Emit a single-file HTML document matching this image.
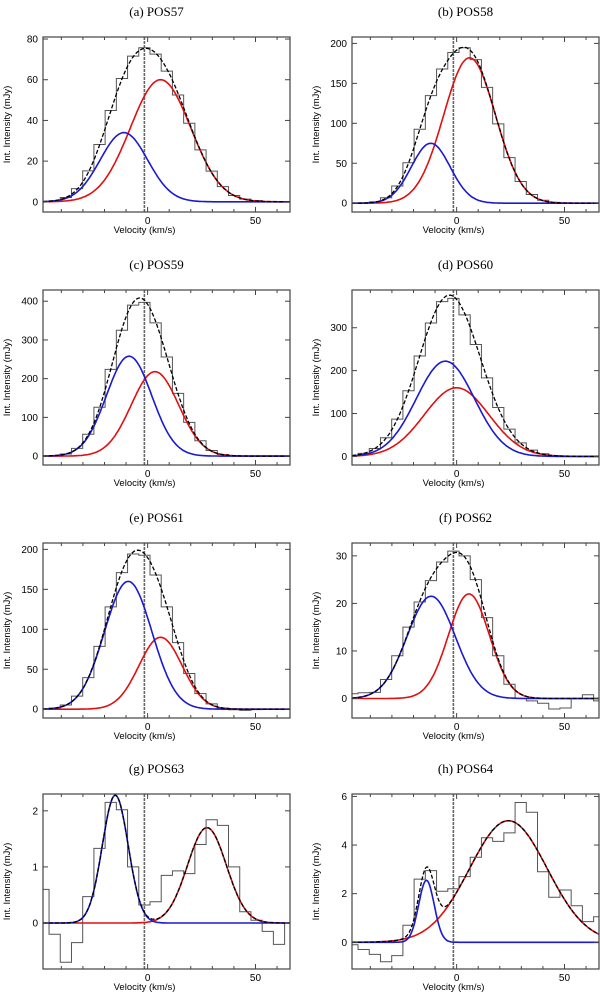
<!DOCTYPE html>
<html><head><meta charset="utf-8">
<style>
body{margin:0;background:#fff;}
svg{display:block;font-family:"Liberation Sans",sans-serif;}
.ttl{font-family:"Liberation Serif",serif;font-size:13px;}
</style></head>
<body>
<svg id="fig" width="600" height="997" viewBox="0 0 600 997" xmlns="http://www.w3.org/2000/svg"></svg>
<script>
const titles=["(a) POS57","(b) POS58","(c) POS59","(d) POS60","(e) POS61","(f) POS62","(g) POS63","(h) POS64"];
const binCenters=[-48.3,-43.1,-37.9,-32.7,-27.5,-22.3,-17.1,-11.9,-6.7,-1.5,3.7,8.9,14.1,19.3,24.5,29.7,34.9,40.1,45.3,50.5,55.7,60.9,66.1];
const binWidth=5.2;
const histA=[0,0.5,2.1,6.5,15.2,28.2,44.9,60.6,71.6,75.7,72.6,64.2,52.5,38.6,25.5,15.1,7.5,3.1,1.3,0.65,0.1,0,0];
const histB=[0,0.2,1.6,6.8,21.6,50.6,92.6,134.7,168,188.6,194.6,179.7,145,99.3,57,27.1,10.9,3.7,1,0.15,0,0,0];
const histC=[0,1,5.3,19.9,56.3,126,224,325,390,397,344,256,162,87,39.5,14.4,4.1,1.1,0.2,0,0,0,0];
const histD=[2.5,7,18.5,43.4,87,153,234,311,361,368.5,330,261,183,114,63.5,31.6,14.6,6.3,2.2,0.64,0.1,0,0];
const histE=[0.3,1.3,5.2,16.3,39.6,78.7,128,171,194.3,192.6,168,128,83.4,44.7,19.5,6.7,1.5,-0.7,-1.5,-0.45,0,0,0];
const histF=[1,1.2,1.3,4,9,15,20.3,24.8,28.7,31,30,25,17,9,3,0,-0.5,-1,-2.2,-2,0,0.8,-0.5];
const histG=[0.6,-0.2,-0.7,-0.35,0.47,1.33,2.15,2.02,1.0,0.32,0.38,0.85,0.93,0.88,1.4,1.84,1.74,1.0,0.2,0.05,-0.15,-0.38,0];
const histH=[-0.1,-0.3,-0.5,-0.8,-0.55,0.7,2.6,2.95,2.1,2.2,2.7,3.5,4.3,4.15,4.5,5.75,5.35,2.9,1.85,2.15,1.5,0.85,1.05];
const hists=[histA,histB,histC,histD,histE,histF,histG,histH];
// gaussian components [amplitude, centre km/s, sigma km/s]
const blueComp=[[34,-11,11],[75,-12,9],[258,-8.6,10.5],[222,-5.2,13.5],[160,-9,11],[21.5,-11.8,11.2],[2.28,-15,6],[2.55,-14,3.6]];
const redComp=[[60,6,14],[182,6,12],[218,3.4,11],[160,0,15],[90,6,10],[22,5.7,9.5],[1.7,27.5,9],[5.0,24,18]];
const yTicks=[[0,20,40,60,80],[0,50,100,150,200],[0,100,200,300,400],[0,100,200,300],[0,50,100,150,200],[0,10,20,30],[0,1,2],[0,2,4,6]];
const yRanges=[[-5,81],[-11,208],[-23,429],[-20,388],[-11,208],[-4.1,32.7],[-0.82,2.3],[-1.1,6.1]];
const xTicks=[0,50];
const xRange=[-48.5,66];
const vline=-1.5;

const NS="http://www.w3.org/2000/svg";
const svg=document.getElementById('fig');
function mk(tag,attrs,parent){const e=document.createElementNS(NS,tag);for(const k in attrs)e.setAttribute(k,attrs[k]);(parent||svg).appendChild(e);return e;}
const rowTops=[37,290,543,794];
const colLefts=[43,352];
const W=247,H=175;
for(let p=0;p<8;p++){
  const r=Math.floor(p/2),c=p%2;
  const L=colLefts[c],T=rowTops[r];
  const g=mk('g',{});
  
  
  const xs=v=>L+(v-xRange[0])/(xRange[1]-xRange[0])*W;
  const yr=yRanges[p];
  const ys=v=>T+H-(v-yr[0])/(yr[1]-yr[0])*H;
  const t=mk('text',{x:L+W/2-10,y:T-21,'text-anchor':'middle','class':'ttl'},g);t.textContent=titles[p];
  
  const cp=mk('clipPath',{id:'cp'+p},g);mk('rect',{x:L,y:T,width:W,height:H},cp);
  const pg=mk('g',{'clip-path':'url(#cp'+p+')'},g);
  const vl=mk('line',{x1:xs(vline),x2:xs(vline),y1:T,y2:T+H,stroke:'#666','stroke-width':1.6,'stroke-dasharray':'3,1'},pg);
  
  const h=hists[p];let d='';
  for(let i=0;i<binCenters.length;i++){
    const x0=xs(binCenters[i]-binWidth/2),x1=xs(binCenters[i]+binWidth/2),y=ys(h[i]);
    d+=(i===0?'M'+x0+','+y:'L'+x0+','+y)+' L'+x1+','+y+' ';
  }
  const hp=mk('path',{d:d,fill:'none',stroke:'#555','stroke-width':1},pg);
  
  const gau=(cmp,v)=>cmp[0]*Math.exp(-Math.pow(v-cmp[1],2)/(2*cmp[2]*cmp[2]));
  function curve(fn){let s='';for(let v=xRange[0];v<=xRange[1];v+=0.5){s+=(s?'L':'M')+xs(v).toFixed(1)+','+ys(fn(v)).toFixed(1)+' ';}return s;}
  const rc=mk('path',{d:curve(v=>gau(redComp[p],v)),fill:'none',stroke:'#e01010','stroke-width':1.6},pg);
  
  const bc=mk('path',{d:curve(v=>gau(blueComp[p],v)),fill:'none',stroke:'#1a1ad0','stroke-width':1.6},pg);
  
  const tc=mk('path',{d:curve(v=>gau(redComp[p],v)+gau(blueComp[p],v)),fill:'none',stroke:'#000','stroke-width':1.3,'stroke-dasharray':'4,2'},pg);
  
  const fr=mk('rect',{x:L,y:T,width:W,height:H,fill:'none',stroke:'#444','stroke-width':1.2},g);
  
  for(let v=-40;v<=60;v+=10){const X=xs(v);const len=(v%50===0)?5:3;
    mk('line',{x1:X,x2:X,y1:T+H,y2:T+H-len,stroke:'#444'},g);mk('line',{x1:X,x2:X,y1:T,y2:T+len,stroke:'#444'},g);}
  xTicks.forEach(v=>{const tl=mk('text',{x:xs(v),y:T+H+12,'text-anchor':'middle','font-size':10},g);tl.textContent=v;
    });
  yTicks[p].forEach(v=>{const Y=ys(v);
    mk('line',{x1:L,x2:L+5,y1:Y,y2:Y,stroke:'#444'},g);mk('line',{x1:L+W,x2:L+W-5,y1:Y,y2:Y,stroke:'#444'},g);
    const tl=mk('text',{x:L-5,y:Y+3.5,'text-anchor':'end','font-size':10},g);tl.textContent=v;
    });
  const xl=mk('text',{x:L+W/2-22,y:T+H+21,'text-anchor':'middle','font-size':9.5},g);xl.textContent='Velocity (km/s)';
  
  const yx=L-33,yy=T+H/2;
  const yl=mk('text',{x:yx,y:yy,'text-anchor':'middle','font-size':9.5,transform:'rotate(-90 '+yx+' '+yy+')'},g);yl.textContent='Int. Intensity (mJy)';
  
}
</script>
</body></html>
